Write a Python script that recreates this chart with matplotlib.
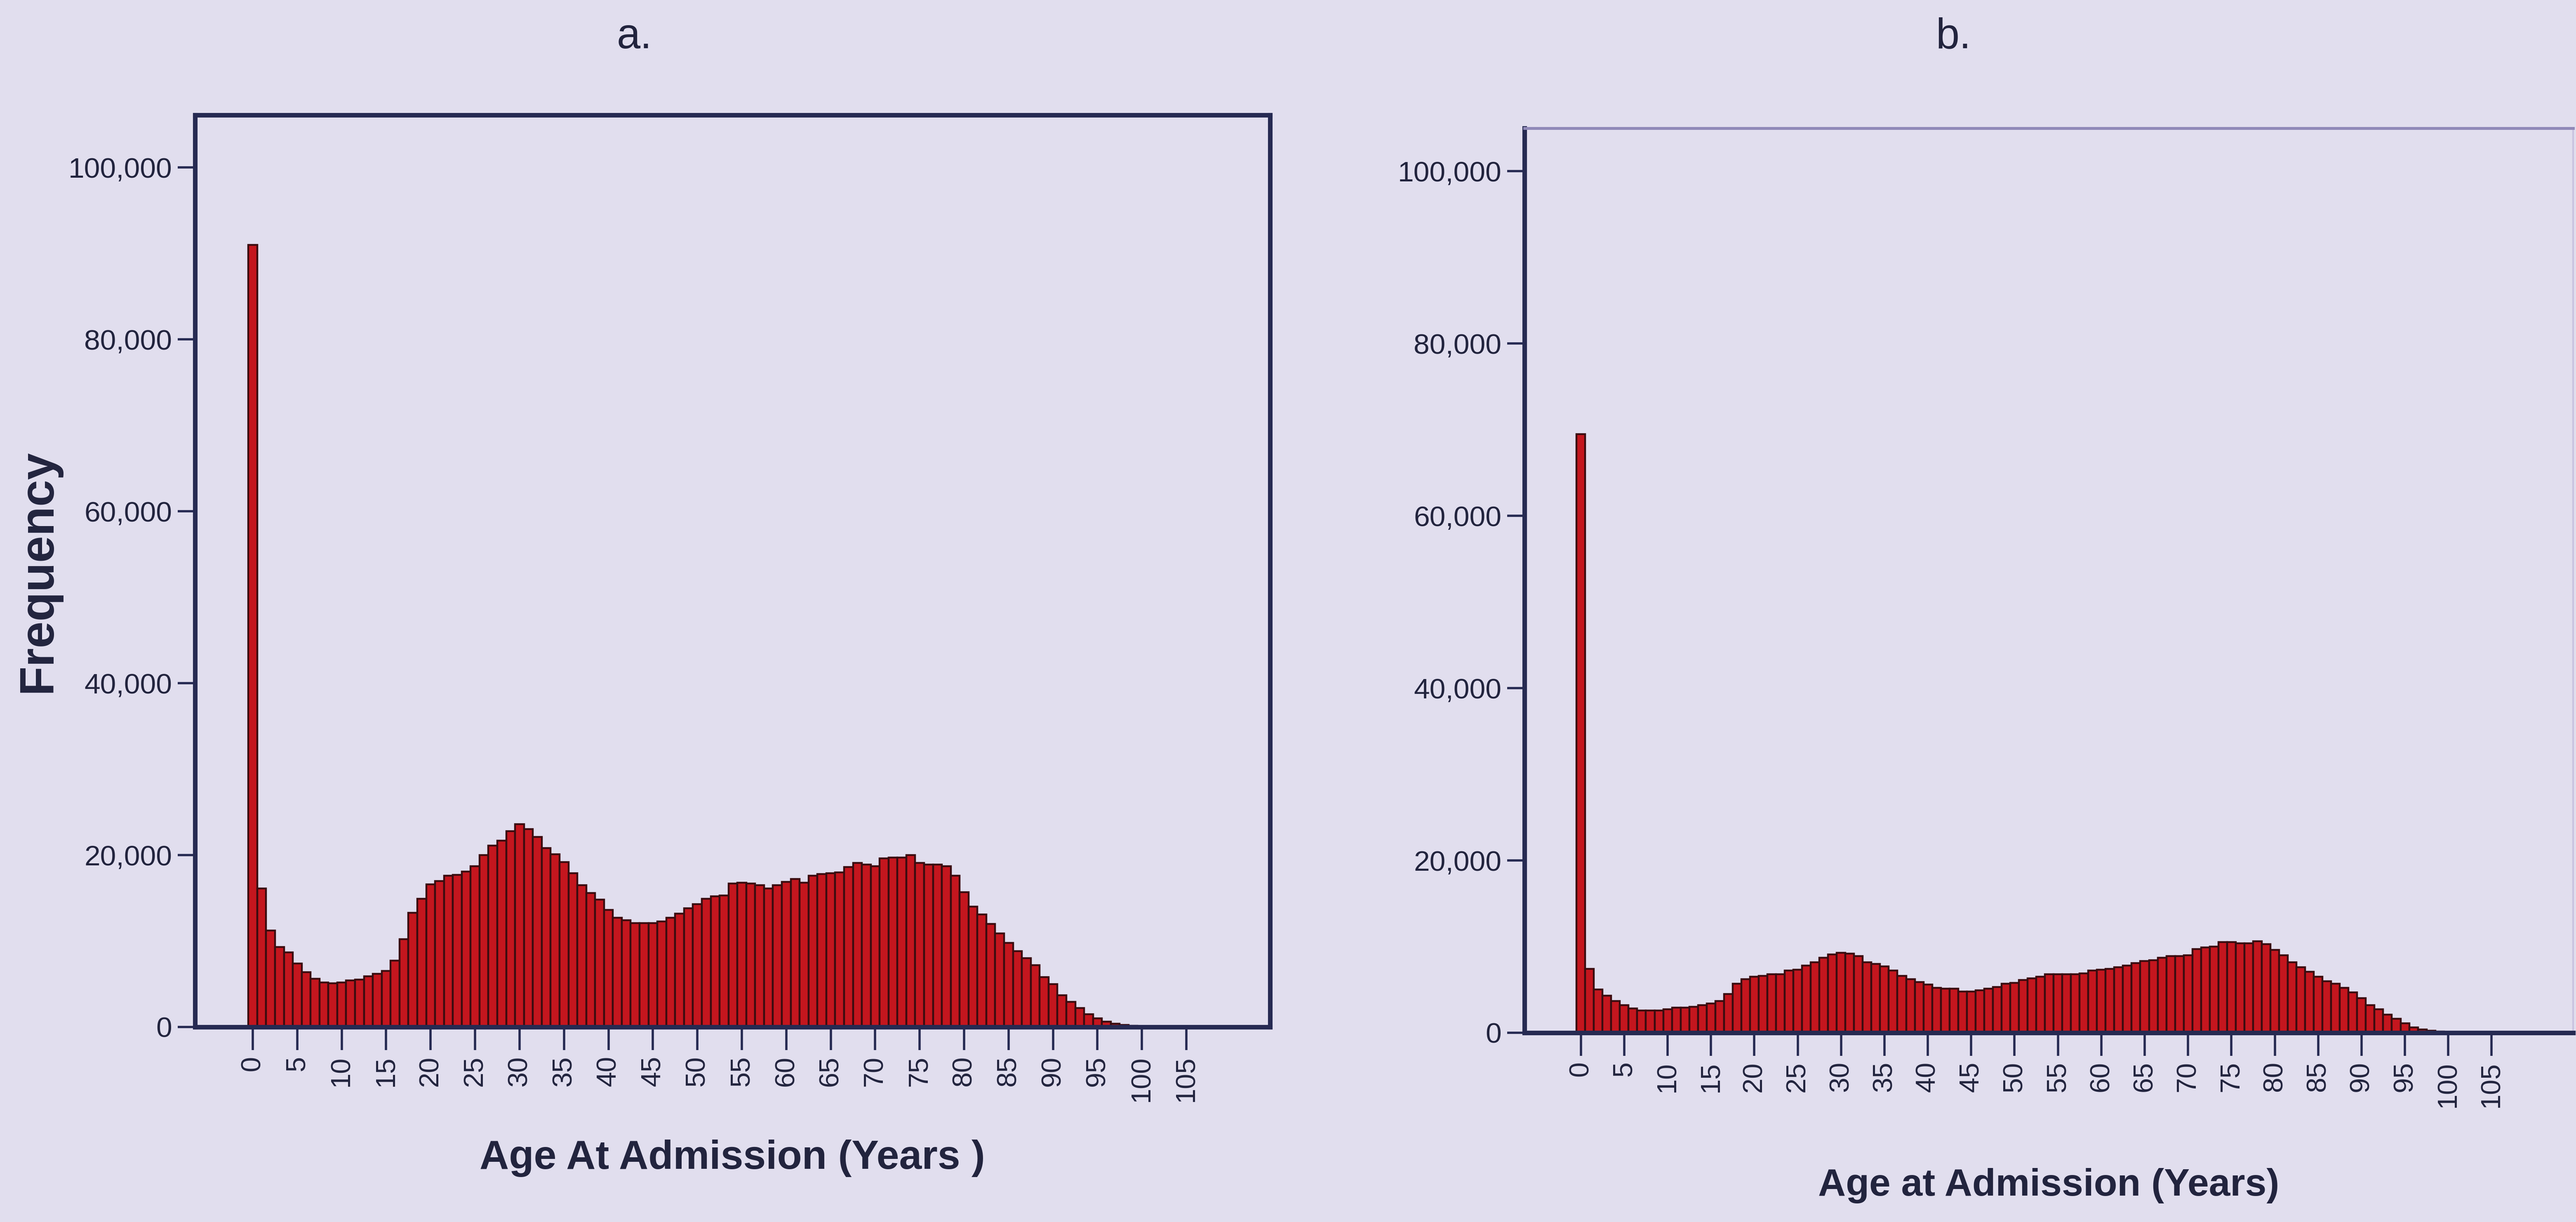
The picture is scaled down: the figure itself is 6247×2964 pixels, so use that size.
import matplotlib
matplotlib.use("Agg")
import matplotlib.pyplot as plt
import numpy as np
from matplotlib.ticker import FuncFormatter

# Admissions per single year of age (thousands), ages 0..110
freq_a = [91.0, 16.1, 11.2, 9.3, 8.7, 7.4, 6.4, 5.6, 5.2, 5.1,
          5.2, 5.4, 5.5, 5.9, 6.2, 6.5, 7.7, 10.2, 13.3, 14.9,
          16.6, 17.0, 17.6, 17.7, 18.1, 18.7, 20.0, 21.1, 21.7, 22.8,
          23.6, 23.0, 22.1, 20.8, 20.1, 19.2, 17.9, 16.5, 15.6, 14.8,
          13.6, 12.7, 12.4, 12.1, 12.1, 12.1, 12.3, 12.7, 13.2, 13.8,
          14.3, 14.9, 15.2, 15.3, 16.7, 16.8, 16.7, 16.5, 16.1, 16.5,
          16.9, 17.2, 16.8, 17.6, 17.8, 17.9, 18.0, 18.6, 19.1, 18.9,
          18.7, 19.6, 19.7, 19.7, 20.0, 19.1, 18.9, 18.9, 18.7, 17.6,
          15.7, 14.0, 13.1, 12.0, 10.9, 9.8, 8.8, 8.0, 7.2, 5.8,
          5.0, 3.7, 2.9, 2.2, 1.5, 1.0, 0.6, 0.4, 0.25, 0.15,
          0.08, 0.05, 0.04, 0.03, 0.03, 0.02, 0.02, 0.02, 0.01, 0.01, 0.01]

freq_b = [69.5, 7.4, 5.0, 4.3, 3.7, 3.2, 2.8, 2.6, 2.6, 2.6,
          2.7, 2.9, 2.9, 3.0, 3.2, 3.4, 3.7, 4.5, 5.7, 6.2,
          6.5, 6.6, 6.8, 6.8, 7.2, 7.3, 7.8, 8.2, 8.7, 9.1,
          9.3, 9.2, 8.9, 8.2, 8.0, 7.7, 7.2, 6.6, 6.2, 5.9,
          5.6, 5.2, 5.1, 5.1, 4.8, 4.8, 4.9, 5.1, 5.3, 5.7,
          5.8, 6.1, 6.3, 6.5, 6.8, 6.8, 6.8, 6.8, 6.9, 7.2,
          7.3, 7.4, 7.6, 7.8, 8.1, 8.3, 8.4, 8.7, 8.9, 8.9,
          9.0, 9.7, 9.9, 10.0, 10.5, 10.5, 10.4, 10.4, 10.6, 10.3,
          9.6, 9.0, 8.2, 7.6, 7.1, 6.5, 6.0, 5.7, 5.2, 4.7,
          4.0, 3.2, 2.7, 2.1, 1.6, 1.1, 0.6, 0.4, 0.25, 0.15,
          0.08, 0.05, 0.04, 0.03, 0.03, 0.02, 0.02, 0.02, 0.01, 0.01, 0.01]

x_ticks = list(range(0, 110, 5))
y_ticks = [0, 20000, 40000, 60000, 80000, 100000]
panel_titles = ["a.", "b."]
x_titles = ["Age At Admission (Years )", "Age at Admission (Years)"]

BG = "#e1deee"
BAR = "#c4161e"
EDGE = "#3a0c10"
AXIS = "#262a52"
TEXT = "#22243e"

plt.rcParams["font.family"] = ["Liberation Sans Narrow", "Liberation Sans", "DejaVu Sans"]

fig = plt.figure(figsize=(62.47, 29.64), dpi=100, facecolor=BG)

ax_a = fig.add_axes([0.0757, 0.1596, 0.4173, 0.7463])
ax_b = fig.add_axes([0.5918, 0.1549, 0.4071, 0.7402])


def draw_panel(ax, values, ytop):
    ages = np.arange(len(values))
    counts = np.array(values) * 1000
    ax.set_facecolor(BG)
    ax.bar(ages, counts, width=1.0, color=BAR, edgecolor=EDGE,
           linewidth=3.2, zorder=2)
    ax.set_xlim(-6.5, 114.4)
    ax.set_ylim(0, ytop)
    ax.set_xticks(x_ticks)
    ax.set_xticklabels([str(t) for t in x_ticks], rotation=90,
                       fontsize=48, color=TEXT)
    ax.set_yticks(y_ticks)
    ax.yaxis.set_major_formatter(FuncFormatter(lambda v, p: f"{int(v):,}"))
    ax.tick_params(axis="x", length=40, width=4, color=AXIS, pad=10)
    ax.tick_params(axis="y", length=30, width=4, color=AXIS, pad=10,
                   labelsize=50, labelcolor=TEXT)
    for side in ["left", "bottom", "top", "right"]:
        ax.spines[side].set_color(AXIS)
        ax.spines[side].set_linewidth(8)
    ax.spines["bottom"].set_zorder(3)


draw_panel(ax_a, freq_a, 106100)
draw_panel(ax_b, freq_b, 105000)

# panel b has a lighter frame at the top and right
ax_b.spines["top"].set_color("#9089b8")
ax_b.spines["top"].set_linewidth(5)
ax_b.spines["right"].set_color("#c9c3e0")
ax_b.spines["right"].set_linewidth(3)

ax_a.set_ylabel("Frequency", fontsize=84, fontweight="bold", color=TEXT,
                family=["Liberation Sans", "DejaVu Sans"])
ax_a.yaxis.set_label_coords(-0.146, 0.5)
ax_a.yaxis.label.set_va("center")

for ax, title, ycoord, size in [(ax_a, x_titles[0], -0.144, 71),
                                (ax_b, x_titles[1], -0.169, 67)]:
    ax.set_xlabel(title, fontsize=size, fontweight="bold", color=TEXT,
                  family=["Liberation Sans", "DejaVu Sans"])
    ax.xaxis.set_label_coords(0.5, ycoord)
    ax.xaxis.label.set_va("center")

fig.text(1538 / 6247, 1 - 90 / 2964, panel_titles[0], fontsize=74,
         color=TEXT, ha="center", va="center",
         family=["Liberation Sans", "DejaVu Sans"])
fig.text(4737 / 6247, 1 - 90 / 2964, panel_titles[1], fontsize=74,
         color=TEXT, ha="center", va="center",
         family=["Liberation Sans", "DejaVu Sans"])

fig.savefig("out.png", dpi=100, facecolor=BG)
